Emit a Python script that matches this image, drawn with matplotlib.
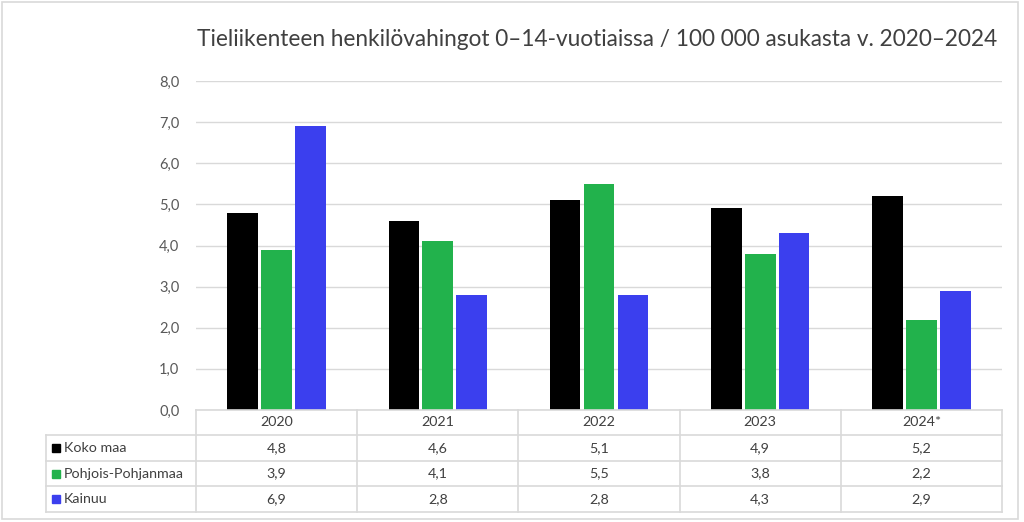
import matplotlib.pyplot as plt
from matplotlib.patches import Rectangle
from matplotlib.lines import Line2D
import numpy as np

plt.rcParams['font.family'] = ['Lato', 'DejaVu Sans']

years = ['2020', '2021', '2022', '2023', '2024*']
series = ['Koko maa', 'Pohjois-Pohjanmaa', 'Kainuu']
koko_maa = [4.8, 4.6, 5.1, 4.9, 5.2]
pohjois_pohjanmaa = [3.9, 4.1, 5.5, 3.8, 2.2]
kainuu = [6.9, 2.8, 2.8, 4.3, 2.9]
values = [koko_maa, pohjois_pohjanmaa, kainuu]
colors = ['#000000', '#22B24C', '#3B3FEE']

W, H = 1024, 522
fig = plt.figure(figsize=(W / 100, H / 100), dpi=100)

def fx(px):
    return px / W

def fy(py):
    return 1 - py / H

left, right, top, bottom = 196, 1002, 81, 410
ax = fig.add_axes([fx(left), fy(bottom), fx(right - left), fy(top) - fy(bottom)])

x = np.arange(len(years))
bw = 0.19
gap = 0.02
for i, (vals, c) in enumerate(zip(values, colors)):
    ax.bar(x + (i - 1) * (bw + gap), vals, bw, color=c, zorder=3)

ax.set_xlim(-0.5, len(years) - 0.5)
ax.set_ylim(0, 8)
ax.set_yticks(np.arange(0, 9, 1))
ax.set_yticklabels([f'{v:.1f}'.replace('.', ',') for v in np.arange(0, 9, 1)],
                   color='#595959', fontsize=10.5)
ax.tick_params(axis='y', length=0, pad=12)
ax.set_xticks([])
ax.grid(axis='y', color='#D9D9D9', linewidth=1, zorder=0)
for s in ax.spines.values():
    s.set_visible(False)

fig.text(fx(597), fy(40), 'Tieliikenteen henkilövahingot 0–14-vuotiaissa / 100 000 asukasta v. 2020–2024',
         ha='center', va='center', fontsize=16.3, color='#404040')

# data table below the chart
line_c = '#D9D9D9'
col_w = (right - left) / len(years)
row_y = [410, 435, 461, 486, 512]
tab_left = 46

def hline(x0, x1, y):
    fig.add_artist(Line2D([fx(x0), fx(x1)], [fy(y), fy(y)], color=line_c, lw=1.2))

def vline(xp, y0, y1):
    fig.add_artist(Line2D([fx(xp), fx(xp)], [fy(y0), fy(y1)], color=line_c, lw=1.2))

hline(left, right, row_y[0])
for y in row_y[1:]:
    hline(tab_left, right, y)
for j in range(len(years) + 1):
    vline(left + j * col_w, row_y[0], row_y[-1])
vline(tab_left, row_y[1], row_y[-1])

for j, yr in enumerate(years):
    fig.text(fx(left + (j + 0.5) * col_w), fy((row_y[0] + row_y[1]) / 2), yr,
             ha='center', va='center', fontsize=10.3, color='#404040')

for i, (name, vals, c) in enumerate(zip(series, values, colors)):
    yc = (row_y[i + 1] + row_y[i + 2]) / 2
    fig.add_artist(Rectangle((fx(52), fy(yc + 4)), fx(8), fy(yc - 4) - fy(yc + 4),
                             color=c, transform=fig.transFigure))
    fig.text(fx(64), fy(yc), name, ha='left', va='center', fontsize=10.3, color='#404040')
    for j, v in enumerate(vals):
        fig.text(fx(left + (j + 0.5) * col_w), fy(yc), f'{v:.1f}'.replace('.', ','),
                 ha='center', va='center', fontsize=10.3, color='#404040')

# outer border
fig.add_artist(Rectangle((fx(2), fy(519)), fx(1016), fy(2) - fy(519), fill=False,
                         edgecolor='#D9D9D9', lw=1.2, transform=fig.transFigure))

fig.savefig('out.png', dpi=100)
